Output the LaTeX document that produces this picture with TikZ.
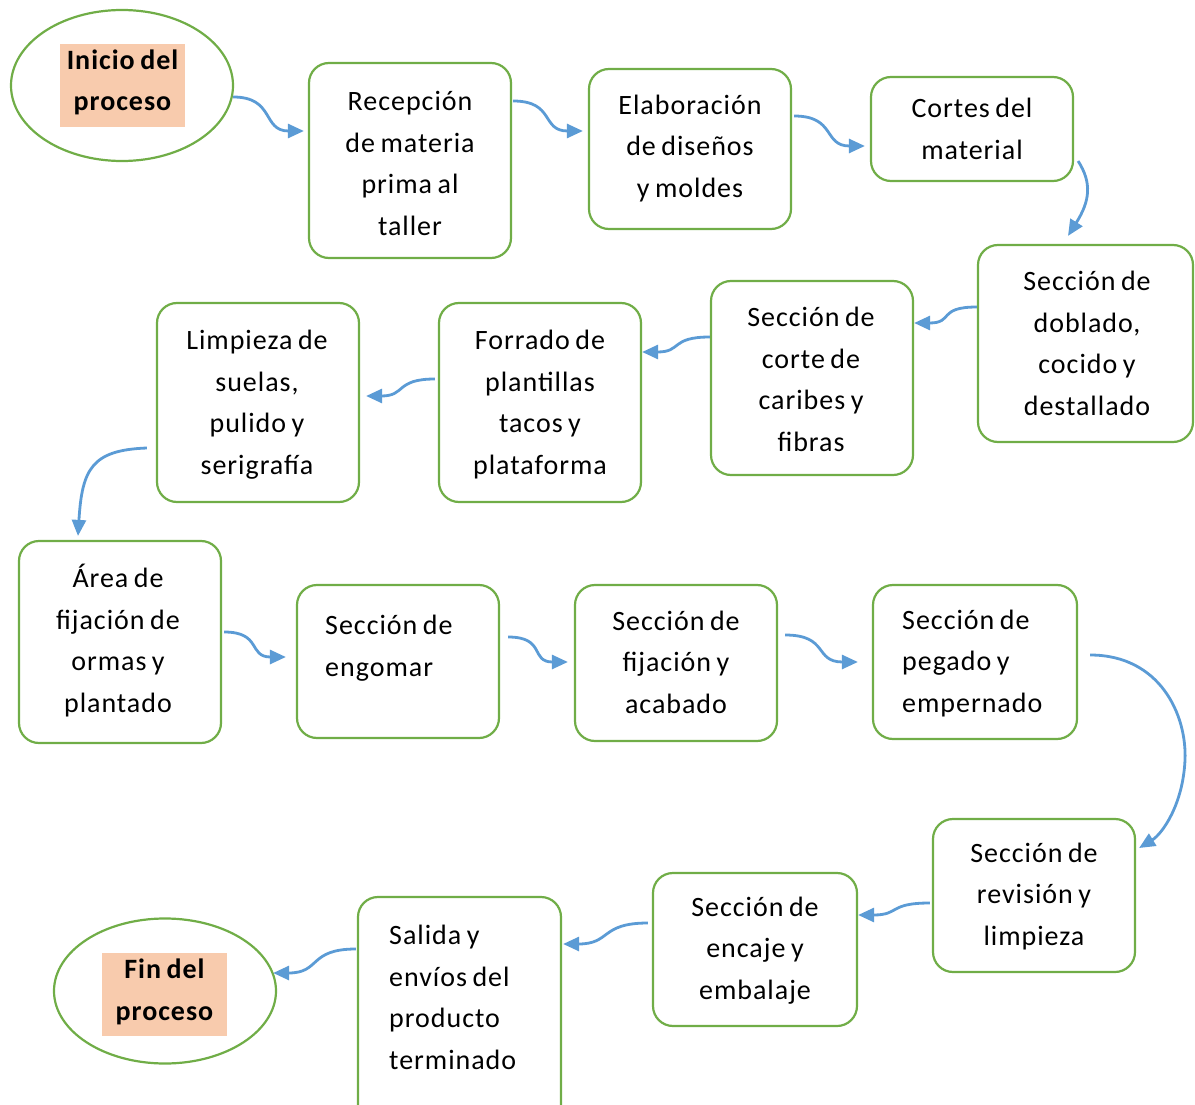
\documentclass[tikz,border=0pt]{standalone}
\usepackage{fontspec}
\setmainfont{Carlito}[LetterSpace=3.5]
\usetikzlibrary{shapes.geometric,arrows.meta,calc}
\definecolor{boxgreen}{HTML}{70AD47}
\definecolor{arrblue}{HTML}{5B9BD5}
\definecolor{hilite}{HTML}{F8CBAD}
\newcommand{\boxfont}{\fontsize{28}{41.5}\selectfont\spaceskip=5.5pt plus 1pt minus 1pt\relax}
\tikzset{
  box/.style={draw=boxgreen, line width=2.2pt, rounded corners=20pt, inner sep=0pt, rectangle},
  oval/.style={draw=boxgreen, line width=2.2pt, ellipse, inner sep=0pt},
  hl/.style={fill=hilite, inner sep=0pt, rectangle},
  txt/.style={font=\boxfont, align=center, inner sep=0pt, anchor=base},
  txtl/.style={font=\boxfont, align=left, inner sep=0pt, anchor=base west},
  btxt/.style={font=\boxfont\bfseries, align=center, inner sep=0pt, anchor=base},
  arr/.style={draw=arrblue, line width=2.8pt, -{Triangle[length=16pt,width=14pt]}}
}
\begin{document}
\begin{tikzpicture}[x=1pt,y=1pt]
\useasboundingbox (0,0) rectangle (1195,-1105);
% shapes
\node[oval, minimum width=222, minimum height=151] (e1) at (122,-85.5) {};
\node[hl, minimum width=125, minimum height=83] (h1) at (122.5,-85.5) {};
\node[box, minimum width=202, minimum height=195] (b1) at (410,-160.5) {};
\node[box, minimum width=202, minimum height=160] (b2) at (690,-149) {};
\node[box, minimum width=202, minimum height=104] (b3) at (972,-129) {};
\node[box, minimum width=215, minimum height=197] (b4) at (1085.5,-343.5) {};
\node[box, minimum width=202, minimum height=194] (b5) at (812,-378) {};
\node[box, minimum width=202, minimum height=199] (b6) at (540,-402.5) {};
\node[box, minimum width=202, minimum height=199] (b7) at (258,-402.5) {};
\node[box, minimum width=202, minimum height=202] (b8) at (120,-642) {};
\node[box, minimum width=202, minimum height=153] (b9) at (398,-661.5) {};
\node[box, minimum width=202, minimum height=156] (b10) at (676,-663) {};
\node[box, minimum width=204, minimum height=154] (b11) at (975,-662) {};
\node[box, minimum width=202, minimum height=153] (b12) at (1034,-895.5) {};
\node[box, minimum width=204, minimum height=153] (b13) at (755,-949.5) {};
\node[box, minimum width=203, minimum height=228] (b14) at (459.5,-1011) {};
\node[oval, minimum width=222, minimum height=145] (e2) at (165,-991) {};
\node[hl, minimum width=125, minimum height=83] (h2) at (164.5,-994.5) {};
% texts (anchored at the baseline of the last line)
\node[btxt] (t0) at (122.5,-111) {Inicio del\\proceso};
\node[txt] (t1) at (410,-235) {Recepción\\de materia\\prima al\\taller};
\node[txt] (t2) at (690,-197) {Elaboración\\de diseños\\y moldes};
\node[txt] (t3) at (972,-159.5) {Cortes del\\material};
\node[txt] (t4) at (1087,-415) {Sección de\\doblado,\\cocido y\\destallado};
\node[txt] (t5) at (811,-451) {Sección de\\corte de\\caribes y\\fibras};
\node[txt] (t6) at (540,-474) {Forrado de\\plantillas\\tacos y\\plataforma};
\node[txt] (t7) at (257,-474) {Limpieza de\\suelas,\\pulido y\\serigrafía};
\node[txt] (t8) at (118,-712) {Área de\\fijación de\\ormas y\\plantado};
\node[txtl] (t9) at (325,-676) {Sección de\\engomar};
\node[txt] (t10) at (676,-713) {Sección de\\fijación y\\acabado};
\node[txtl] (t11) at (902,-712) {Sección de\\pegado y\\empernado};
\node[txt] (t12) at (1034,-945) {Sección de\\revisión y\\limpieza};
\node[txt] (t13) at (755,-999) {Sección de\\encaje y\\embalaje};
\node[txtl] (t14) at (389,-1069) {Salida y\\envíos del\\producto\\terminado};
\node[btxt] (t15) at (164.5,-1020) {Fin del\\proceso};
% connectors
\draw[arr] ($(e1.east |- 0,-97)+(-1,0)$) .. controls +(42,0) and +(-42,0) .. ($(b1.west |- 0,-131)+(-4,0)$);
\draw[arr] ($(b1.east |- 0,-101)+(1,0)$) .. controls +(42,0) and +(-42,0) .. ($(b2.west |- 0,-131)+(-5,0)$);
\draw[arr] ($(b2.east |- 0,-116)+(2,0)$) .. controls +(42,0) and +(-42,0) .. ($(b3.west |- 0,-146)+(-5,0)$);
\draw[arr] ($(b3.east |- 0,-161)+(4,0)$) .. controls +(14,-22) and +(22,35) .. ($(b4.north)+(-17.5,8)$);
\draw[arr] (b4.west |- 0,-307) .. controls +(-40,0) and +(40,0) .. (b5.east |- 0,-323);
\draw[arr] (b5.west |- 0,-337) .. controls +(-40,0) and +(40,0) .. (b6.east |- 0,-352);
\draw[arr] ($(b6.west |- 0,-379)+(-3,0)$) .. controls +(-40,0) and +(40,0) .. ($(b7.east |- 0,-396)+(6,0)$);
\draw[arr] ($(b7.west |- 0,-448)+(-9,0)$) .. controls +(-55,-2) and +(4,67) .. ($(b8.north)+(-42,4)$);
\draw[arr] ($(b8.east |- 0,-632)+(2,0)$) .. controls +(38,0) and +(-38,0) .. ($(b9.west |- 0,-657)+(-10,0)$);
\draw[arr] ($(b9.east |- 0,-637)+(8,0)$) .. controls +(38,0) and +(-38,0) .. ($(b10.west |- 0,-662)+(-6,0)$);
\draw[arr] ($(b10.east |- 0,-635)+(7,0)$) .. controls +(44,0) and +(-44,0) .. ($(b11.west |- 0,-662)+(-14,0)$);
\draw[arr] ($(b11.east |- 0,-655)+(12,0)$) .. controls (1160,-655) and (1187,-715) .. (1185,-760) .. controls (1183,-805) and (1162,-834) .. ($(b12.east |- 0,-848)+(3,0)$);
\draw[arr] ($(b12.west |- 0,-903)+(-2,0)$) .. controls +(-42,0) and +(42,0) .. (b13.east |- 0,-915);
\draw[arr] ($(b13.west |- 0,-923)+(-4,0)$) .. controls +(-48,0) and +(48,0) .. ($(b14.east |- 0,-944)+(1,0)$);
\draw[arr] ($(b14.west |- 0,-949)+(-1,0)$) .. controls +(-48,0) and +(48,0) .. ($(e2.east |- 0,-973)+(-4,0)$);
\end{tikzpicture}
\end{document}
